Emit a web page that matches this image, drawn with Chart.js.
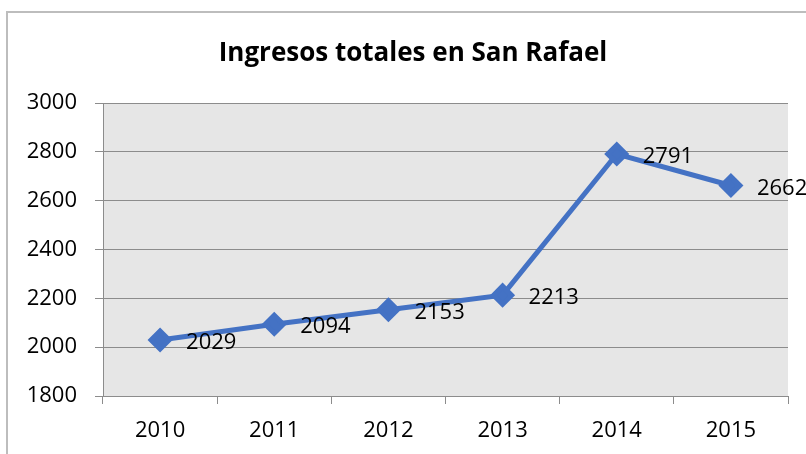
<!DOCTYPE html>
<html>
<head>
<meta charset="utf-8">
<script src="https://cdn.jsdelivr.net/npm/chart.js@4"></script>
<style>
  html, body { margin: 0; padding: 0; background: #fff; overflow: hidden; }
  #wrap { position: absolute; left: 0; top: 0; width: 806px; height: 454px; }
</style>
</head>
<body>
<div id="wrap"><canvas id="myChart"></canvas></div>
<script>
let years = ['2010', '2011', '2012', '2013', '2014', '2015'];
let ingresos = [2029, 2094, 2153, 2213, 2791, 2662];
let yTicks = [1800, 2000, 2200, 2400, 2600, 2800, 3000];
let tituloTexto = 'Ingresos totales en San Rafael';

let fontName = "'Open Sans', sans-serif";

// marco del grafico, titulo y fondo gris del area de trazado
let framePlugin = {
  id: 'frame',
  beforeDraw: function(chart){
    let ctx = chart.ctx;
    let a = chart.chartArea;
    ctx.save();
    ctx.fillStyle = '#fff';
    ctx.fillRect(0, 0, chart.width, chart.height);
    ctx.strokeStyle = '#bdbdbd';
    ctx.lineWidth = 2;
    ctx.strokeRect(7, 12, 900, 500);
    ctx.fillStyle = '#e6e6e6';
    ctx.fillRect(a.left, a.top, a.right - a.left, a.bottom - a.top);
    ctx.fillStyle = '#000';
    ctx.font = 'bold 26px ' + fontName;
    ctx.textAlign = 'center';
    ctx.textBaseline = 'middle';
    ctx.fillText(tituloTexto, 413, 54);
    ctx.restore();
  }
};

// etiquetas de datos a la derecha de cada punto
let labelPlugin = {
  id: 'valueLabels',
  afterDatasetsDraw: function(chart){
    let ctx = chart.ctx;
    let meta = chart.getDatasetMeta(0);
    ctx.save();
    ctx.font = '22px ' + fontName;
    ctx.fillStyle = '#000';
    ctx.textAlign = 'left';
    ctx.textBaseline = 'middle';
    meta.data.forEach(function(pt, i){
      ctx.fillText(String(ingresos[i]), pt.x + 26, pt.y + 3);
    });
    ctx.restore();
  }
};

let data = {
  labels: years,
  datasets: [{
    label: 'Ingresos',
    data: ingresos,
    borderColor: '#4472c4',
    backgroundColor: '#4472c4',
    borderWidth: 5,
    pointStyle: 'rectRot',
    pointRadius: 9,
    pointHoverRadius: 9,
    tension: 0
  }]
};

let config = {
  type: 'line',
  data: data,
  options: {
    responsive: true,
    maintainAspectRatio: false,
    animation: false,
    layout: { padding: { left: 0, right: 18, top: 103, bottom: 0 } },
    plugins: {
      legend: { display: false },
      tooltip: { enabled: false },
      title: { display: false }
    },
    scales: {
      x: {
        offset: true,
        grid: {
          offset: true,
          drawOnChartArea: false,
          tickLength: 8,
          color: '#8c8c8c'
        },
        border: { color: '#8c8c8c', width: 1 },
        ticks: {
          color: '#000',
          font: { family: fontName, size: 22 },
          padding: 14
        },
        afterFit: function(scale){ scale.height = 58; }
      },
      y: {
        min: 1800,
        max: 3000,
        afterBuildTicks: function(scale){
          scale.ticks = yTicks.map(function(v){ return { value: v }; });
        },
        grid: {
          color: '#8c8c8c',
          tickLength: 8,
          lineWidth: 1
        },
        border: { color: '#8c8c8c', width: 1 },
        ticks: {
          color: '#000',
          font: { family: fontName, size: 22 },
          padding: 18,
          callback: function(v){ return String(v); }
        },
        afterFit: function(scale){ scale.width = 103; }
      }
    }
  },
  plugins: [framePlugin, labelPlugin]
};

let myChart = new Chart(
  document.getElementById('myChart'),
  config
);
</script>
</body>
</html>
